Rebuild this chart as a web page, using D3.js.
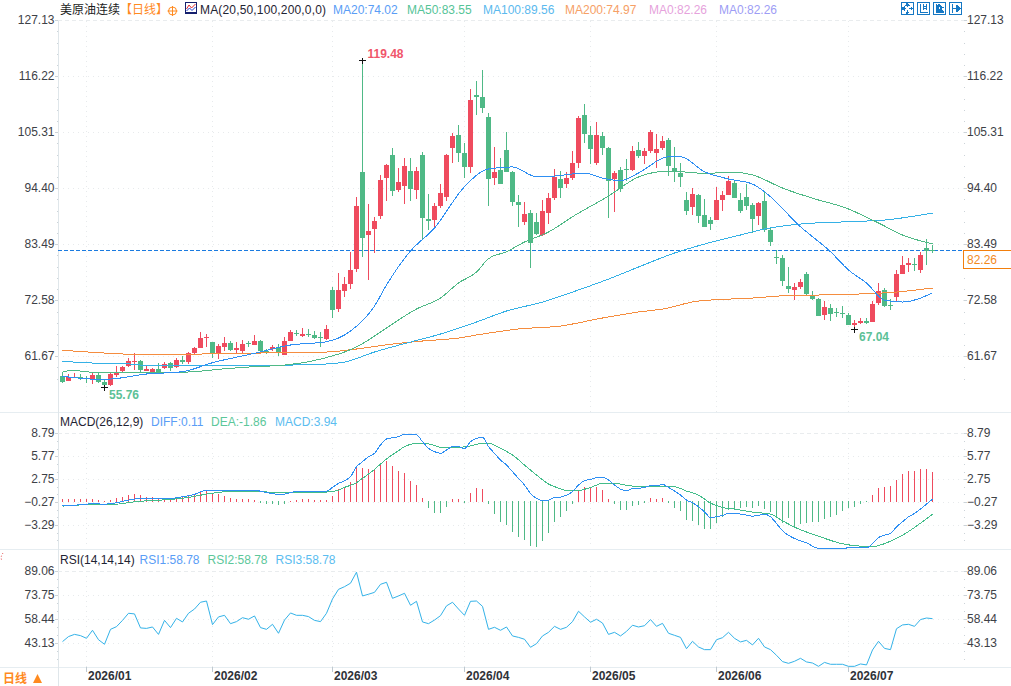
<!DOCTYPE html>
<html>
<head>
<meta charset="utf-8">
<title>美原油连续</title>
<script src="https://cdn.jsdelivr.net/npm/d3@7/dist/d3.min.js"></script>
<style>
html,body{margin:0;padding:0;background:#fff;overflow:hidden}
svg{display:block}
text{font-family:"Liberation Sans","Noto Sans CJK SC",sans-serif;font-size:12px}
</style>
</head>
<body>
<svg id="chart" width="1011" height="686"></svg>
<script>
// Daily candles
const opens = [
57.89,56.85,57.50,57.63,57.37,57.31,58.02,56.66,56.07,58.02,
58.74,59.78,60.49,60.75,58.87,58.61,59.19,59.39,60.30,59.52,
60.88,60.49,62.31,63.28,65.36,64.45,62.05,63.48,64.26,62.96,
62.70,64.26,63.87,64.65,62.70,63.15,63.48,61.98,64.65,66.21,
65.69,65.94,65.82,65.43,64.97,74.58,70.88,74.39,75.75,78.67,
97.57,85.30,86.47,89.00,96.47,100.89,94.07,94.85,97.77,94.07,
100.89,88.42,88.22,90.95,92.70,102.25,104.78,101.28,98.55,112.57,
112.18,108.29,96.41,97.96,101.86,97.57,91.73,87.83,89.59,87.83,
85.30,89.59,92.51,96.21,95.24,96.41,99.33,108.68,104.78,99.33,
104.59,102.25,96.21,97.96,98.16,97.96,101.86,100.69,101.67,101.28,
102.25,103.81,98.35,97.38,92.12,90.76,93.09,89.20,88.22,88.22,
92.12,93.09,95.43,92.12,92.70,91.15,89.00,91.92,86.27,81.08,
80.82,75.36,74.58,75.17,77.70,73.61,72.83,69.71,71.07,70.30,
70.10,69.71,67.76,68.15,68.54,68.35,72.05,74.58,71.66,73.22,
77.70,79.45,79.65,78.48,82.77,82.30];
const highs = [
58.67,58.22,58.35,58.22,57.83,58.35,58.67,57.18,58.48,59.78,
59.84,61.27,62.24,60.94,59.91,59.39,60.30,60.62,60.62,61.33,
61.72,62.44,63.48,66.40,66.01,64.52,63.98,65.36,64.58,64.45,
64.84,64.71,65.82,64.78,63.02,63.80,63.98,65.36,66.79,66.86,
67.18,66.98,66.60,66.46,67.76,75.17,77.89,77.11,81.99,92.70,
119.48,91.34,88.87,96.99,99.13,102.31,98.35,100.30,100.30,98.55,
101.47,93.29,91.53,95.24,101.08,105.17,106.73,103.22,113.74,115.30,
117.45,109.07,102.44,100.30,105.37,97.77,93.09,91.73,90.17,89.59,
92.12,93.48,98.16,97.77,97.57,101.67,108.48,110.82,106.54,107.32,
105.37,102.45,97.77,98.55,100.11,102.64,103.42,102.25,105.76,104.98,
104.59,104.20,102.45,99.33,93.68,94.46,93.29,92.31,88.81,94.65,
93.87,96.80,95.82,93.48,95.24,91.54,91.73,93.67,86.92,82.37,
81.40,79.06,75.95,76.72,78.09,74.39,73.02,72.44,71.86,71.07,
71.46,70.10,68.74,69.13,69.13,72.44,75.95,74.97,72.83,78.48,
81.21,80.82,80.82,81.99,84.52,83.35];
const lows = [
56.53,56.85,57.37,57.05,56.46,56.33,56.53,55.76,55.94,57.70,
58.61,59.52,59.00,58.61,58.80,58.48,58.28,59.19,58.87,59.39,
60.17,60.17,62.18,63.22,63.41,61.33,61.21,62.76,62.63,62.31,
62.37,63.54,63.80,62.24,62.11,62.63,61.72,61.92,64.58,65.62,
65.36,65.43,64.97,63.48,64.84,69.13,70.30,73.22,74.78,78.09,
81.01,76.53,81.73,88.42,91.92,92.90,93.68,91.34,91.92,92.31,
84.33,86.27,86.47,90.50,91.92,99.33,99.52,96.41,97.38,108.68,
109.07,90.95,95.04,95.24,97.57,90.95,86.86,87.25,78.87,85.30,
85.11,87.44,92.12,92.51,94.46,96.02,98.35,103.22,99.13,98.94,
100.89,88.61,89.78,93.68,95.82,97.77,100.30,99.13,101.28,98.35,
101.86,96.80,95.63,94.65,89.20,89.20,87.64,86.86,86.28,88.22,
89.98,93.09,92.51,89.59,90.17,85.69,87.25,85.88,83.15,79.65,
75.36,73.99,72.63,74.78,73.41,72.63,69.52,68.74,68.54,69.32,
69.13,67.76,67.04,68.02,67.96,68.35,71.66,71.27,70.69,72.44,
77.70,78.09,78.28,77.90,79.45,81.73];
const closes = [
56.72,57.70,57.70,57.31,57.24,57.96,56.72,56.07,58.22,58.41,
59.58,60.75,60.69,59.00,59.13,59.19,58.35,60.23,59.45,60.94,
60.56,62.24,63.28,65.17,65.49,62.05,63.61,64.26,62.89,63.28,
64.06,63.98,64.65,62.63,62.57,63.48,62.31,64.65,66.40,66.01,
66.01,65.82,65.23,65.30,66.98,70.69,74.58,75.75,78.48,90.95,
84.71,86.08,88.03,96.02,98.94,93.87,95.63,98.74,94.26,97.77,
88.61,88.03,90.95,93.48,100.89,104.59,101.28,98.55,111.60,112.18,
110.04,96.21,97.57,95.24,97.57,91.73,91.14,89.39,83.81,85.49,
89.98,92.51,96.60,94.46,96.41,99.33,108.10,104.98,102.06,104.78,
102.25,95.82,97.38,94.26,97.96,101.67,100.69,101.67,105.37,102.06,
103.61,98.74,97.57,96.60,89.98,93.29,89.00,86.86,87.44,92.12,
93.09,95.82,92.51,89.98,90.95,88.42,91.54,86.27,83.93,80.88,
76.34,74.78,75.17,76.14,73.80,72.83,69.52,71.27,69.91,70.10,
69.84,67.76,68.15,68.54,68.22,71.86,74.39,71.46,71.46,77.70,
79.45,79.84,79.39,81.40,82.18,82.26];

// Moving averages: bar number and value at each reading along the curve
const ma20Bars = [0,6,8,14,20,25,32,38,44,48,52,54,58,62,67,71,75,79,82,87,90,93,96,101,103,107,111,115,117,123,128,131,134,137,140,145];
const ma20Vals = [57.77,57.19,57.24,58.22,58.67,60.42,62.25,63.87,64.51,66.59,71.46,75.56,82.18,86.66,94.71,98.16,98.55,96.66,96.79,97.38,96.40,95.88,97.38,100.55,100.55,97.63,96.21,95.23,93.73,86.91,82.04,78.48,75.95,72.63,72.24,74.02];
const ma50Bars = [0,2,6,11,17,22,26,31,37,41,46,47,51,53,59,63,66,69,71,74,77,81,85,91,96,101,107,112,115,120,126,130,136,140,145];
const ma50Vals = [58.74,58.86,58.47,58.47,58.47,58.67,59.13,59.58,59.97,60.61,62.11,62.50,64.84,66.40,70.88,73.02,75.95,78.09,80.68,82.04,83.93,85.88,88.86,92.90,96.60,97.77,97.32,97.51,97.00,94.45,92.12,90.81,87.64,85.30,83.55];
const ma100Bars = [0,5,10,15,23,33,40,44,47,52,58,63,69,74,80,85,91,96,102,107,113,117,123,131,137,145];
const ma100Vals = [60.69,60.36,60.26,59.83,59.83,59.83,60.03,60.17,60.55,62.50,64.45,66.01,68.35,70.49,72.24,74.19,76.72,79.06,81.79,83.54,85.30,86.47,87.44,87.89,88.22,89.56];
const ma200Bars = [0,5,12,23,33,44,49,55,60,66,69,76,83,90,96,100,106,115,121,129,139,145];
const ma200Vals = [62.84,62.45,62.06,62.11,62.31,62.50,63.09,64.06,64.65,65.23,65.82,66.99,67.57,69.13,70.30,70.88,72.44,73.02,73.51,73.67,74.19,74.97];

// MACD panel
const macdHist = [
.35,.40,.40,.40,.40,.35,.22,.18,.26,.48,
.62,.88,1.01,.92,.62,.62,.57,.53,.44,.62,
.62,.79,.97,1.36,1.45,1.14,1.01,.79,.57,.44,
.40,.35,.26,-.22,-.40,-.44,-.48,-.40,.18,.26,
.40,.35,.31,.22,.26,.79,1.67,2.02,2.60,4.53,
4.49,4.36,4.31,5.06,5.41,4.75,4.09,3.83,2.82,2.24,
.53,-.92,-1.58,-1.58,-.79,.44,.44,-.26,1.19,1.85,
1.72,-.40,-1.72,-2.77,-3.17,-4.09,-4.75,-5.15,-5.94,-6.07,
-5.28,-4.22,-2.77,-2.11,-1.32,-.40,1.45,1.98,1.85,1.98,
1.58,.40,-.40,-1.19,-1.19,-.66,-.53,-.26,.53,.40,
.53,-.26,-.92,-1.32,-2.51,-2.64,-3.17,-3.70,-3.70,-2.90,
-2.11,-1.19,-1.19,-.92,-.79,-.92,-.66,-1.06,-1.45,-2.11,
-2.90,-2.24,-3.43,-3.04,-2.90,-2.77,-2.77,-2.38,-2.11,-1.85,
-1.32,-.92,-.79,-.40,-.05,.92,1.85,1.98,2.11,2.90,
3.70,4.09,4.09,4.36,4.36,3.94];
const diffBars = [0,3,5,7,9,11,13,16,18,20,22,24,26,28,32,34,36,37,39,44,45,46,47,48,49,50,51,52,53,54,56,57,59,60,61,62,63,64,65,66,67,68,69,70,71,72,73,74,75,76,77,78,79,80,81,82,83,84,85,86,87,88,89,90,91,92,93,94,95,96,97,98,99,100,101,102,103,104,105,106,107,108,109,110,111,112,113,114,115,116,117,118,119,120,122,124,126,134,135,136,137,138,139,140,141,142,143,144,145];
const diffVals = [-.71,-.63,-.49,-.54,-.36,-.01,.21,.21,.21,.43,.74,1.31,1.27,1.27,1.27,1.00,.74,.78,1.13,1.18,1.66,2.19,2.54,3.07,4.39,5.05,5.71,6.15,7.25,8.04,8.35,8.66,8.57,7.69,6.81,6.37,6.15,6.59,7.03,7.03,6.77,7.69,8.13,8.26,7.03,6.15,5.27,4.61,3.73,2.85,1.97,.87,.21,-.05,-.01,.34,.39,.65,1.09,1.97,2.54,2.72,2.94,2.98,2.63,1.97,1.44,1.22,1.49,1.53,1.66,1.88,1.88,2.06,1.66,1.18,.65,-.01,-.36,-.89,-1.55,-2.30,-2.21,-2.03,-1.77,-1.77,-1.86,-1.99,-2.12,-2.03,-1.86,-2.21,-3.09,-4.06,-5.07,-5.64,-6.35,-6.30,-5.73,-4.94,-4.63,-4.41,-3.53,-2.87,-2.21,-1.77,-1.20,-.54,.11];
const deaBars = [0,5,9,12,18,21,24,28,33,36,39,44,46,47,49,50,52,53,54,56,57,59,60,62,63,66,68,70,71,73,75,77,79,81,83,84,86,88,90,92,95,100,102,104,106,108,110,112,115,118,120,122,126,130,133,135,138,140,145];
const deaVals = [-.80,-.58,-.54,-.23,.08,.34,.78,1.13,1.09,1.00,1.05,1.05,1.31,1.66,2.28,2.85,4.04,4.74,5.40,6.50,7.03,7.47,7.47,7.21,6.94,6.94,7.12,7.47,7.47,6.81,5.93,4.61,3.29,2.10,1.49,1.27,1.27,1.66,2.19,2.19,1.84,1.79,1.75,1.18,.65,-.41,-.98,-1.20,-1.59,-1.86,-2.74,-3.57,-4.76,-5.77,-6.08,-6.13,-5.42,-4.63,-1.86];

// RSI panel
const rsiVals = [
44.2,47.4,48.8,48.0,46.3,51.4,45.4,42.5,52.0,53.7,
57.7,62.2,61.8,52.9,52.6,53.5,48.8,57.7,53.1,59.0,
56.7,62.2,64.9,69.2,70.0,55.0,59.9,60.9,55.6,56.9,
59.4,58.4,60.5,53.1,52.0,55.2,49.5,57.9,62.4,60.9,
60.9,60.1,57.7,56.9,62.2,71.3,77.4,79.1,81.3,88.3,
73.2,74.3,75.5,80.6,81.9,71.7,73.2,74.9,67.3,69.8,
56.7,55.6,57.9,60.7,66.9,69.2,64.9,60.9,69.8,70.0,
66.6,52.0,53.3,51.4,53.5,47.8,46.9,45.7,40.6,42.9,
47.8,50.1,53.9,52.0,53.3,56.9,63.5,59.9,56.5,58.4,
56.0,48.8,50.1,47.8,50.7,54.6,53.5,54.3,58.2,53.9,
55.8,49.5,48.2,46.9,39.7,44.4,40.8,39.1,39.1,45.4,
46.7,50.1,46.3,44.0,45.0,42.1,46.3,40.8,39.1,35.5,
31.5,30.4,31.7,33.6,31.3,30.6,28.5,31.0,29.8,29.8,
29.8,28.5,28.5,30.0,29.4,38.9,44.4,39.9,39.1,52.4,
54.8,55.2,53.9,58.2,59.2,58.78];

// Axes and captions
const priceTicks = [127.13,116.22,105.31,94.40,83.49,72.58,61.67];
const macdTicks = [8.79,5.77,2.75,-0.27,-3.29];
const rsiTicks = [89.06,73.75,58.44,43.13];
const monthBars = [4,25,45,67,88,109,131];
const monthNames = ["2026/01","2026/02","2026/03","2026/04","2026/05","2026/06","2026/07"];
const instrumentName = "美原油连续";
const periodName = "【日线】";
const maTitle = "MA(20,50,100,200,0,0)";
const maLegend = ["MA20:74.02","MA50:83.55","MA100:89.56","MA200:74.97","MA0:82.26","MA0:82.26"];
const macdLegend = ["DIFF:0.11","DEA:-1.86","MACD:3.94"];
const rsiLegend = ["RSI1:58.78","RSI2:58.78","RSI3:58.78"];
const lastClose = 82.26;
const highMark = {bar:50, value:119.48};
const lowMarks = [{bar:7, value:55.76},{bar:132, value:67.04}];

const RED = "#ef4b5e", GREEN = "#4fb986", BLUE = "#2e8ff3", TEAL = "#35b1e6", ORANGE = "#f58d3f";
const GRID = "#e7eaec", FRAME = "#e6edf1", AXIS_TEXT = "#3d4147";
const LEFT = 58, RIGHT = 964;

const svg = d3.select("#chart");
const x = d3.scaleLinear().domain([0, 145]).range([62.5, 932.5]);
const yPrice = d3.scaleLinear().domain([61.67, 116.22]).range([356.3, 76.3]);
const yMacd = d3.scaleLinear().domain([-3.29, 8.79]).range([525, 433.3]);
const yRsi = d3.scaleLinear().domain([43.13, 89.06]).range([643.3, 571]);

const px = v => Math.round(v) + 0.5;

// Panel frame
const frame = svg.append("g").attr("stroke", FRAME).attr("fill", "none").attr("shape-rendering", "crispEdges");
[412, 549, 667].forEach(y => frame.append("line").attr("x1", 0).attr("x2", 1011).attr("y1", y + .5).attr("y2", y + .5));
frame.append("line").attr("x1", LEFT + .5).attr("x2", LEFT + .5).attr("y1", 20).attr("y2", 686).attr("stroke", "#dfe6ea");

// Grid and tick labels for one panel
function panelAxis(scale, ticks, top, bottom, minorDiv) {
  const g = svg.append("g");
  const lines = g.append("g").attr("shape-rendering", "crispEdges").attr("fill", "none");
  ticks.forEach((t, i) => {
    lines.append("line").attr("x1", LEFT).attr("x2", RIGHT)
      .attr("y1", px(scale(t))).attr("y2", px(scale(t)))
      .attr("stroke", i === 0 ? "#e9ecee" : GRID)
      .attr("stroke-dasharray", i === 0 ? "4 3" : "1 4");
  });
  monthBars.forEach(b => {
    lines.append("line").attr("x1", Math.floor(x(b)) + .5).attr("x2", Math.floor(x(b)) + .5)
      .attr("y1", top).attr("y2", bottom)
      .attr("stroke", GRID).attr("stroke-dasharray", "1 4");
  });
  const step = Math.abs(ticks[1] - ticks[0]) / minorDiv;
  const lo = d3.min(ticks), hi = d3.max(ticks);
  const ticksMarks = g.append("g").attr("shape-rendering", "crispEdges").attr("stroke", "#ccd3d8");
  for (let v = lo - 2 * step; v <= hi + step / 2; v += step) {
    const yy = px(scale(v));
    if (yy < top || yy > bottom) continue;
    ticksMarks.append("line").attr("x1", LEFT - 1).attr("x2", LEFT).attr("y1", yy).attr("y2", yy);
    ticksMarks.append("line").attr("x1", RIGHT).attr("x2", RIGHT + 1).attr("y1", yy).attr("y2", yy);
  }
  ticks.forEach(t => {
    const yy = px(scale(t));
    ticksMarks.append("line").attr("x1", LEFT - 3).attr("x2", LEFT).attr("y1", yy).attr("y2", yy);
    ticksMarks.append("line").attr("x1", RIGHT).attr("x2", RIGHT + 3).attr("y1", yy).attr("y2", yy);
    const label = d3.format(".2f")(t);
    g.append("text").attr("x", 54.5).attr("y", scale(t) - 0.5).attr("text-anchor", "end")
      .attr("dominant-baseline", "central").attr("fill", AXIS_TEXT).text(label);
    g.append("text").attr("x", 967).attr("y", scale(t) - 0.5)
      .attr("dominant-baseline", "central").attr("fill", AXIS_TEXT).text(label);
  });
}
panelAxis(yPrice, priceTicks, 21, 412, 5);
panelAxis(yMacd, macdTicks, 433, 545, 3);
panelAxis(yRsi, rsiTicks, 571, 667, 3);

// Last price guide and tag
svg.append("line").attr("x1", LEFT).attr("x2", 1011)
  .attr("y1", px(yPrice(lastClose)) - 1).attr("y2", px(yPrice(lastClose)) - 1)
  .attr("stroke", "#1b7be0").attr("stroke-dasharray", "4 2").attr("shape-rendering", "crispEdges");
svg.append("rect").attr("x", 963.5).attr("y", 250.5).attr("width", 48).attr("height", 18)
  .attr("fill", "#fff").attr("stroke", "#f27f0c").attr("shape-rendering", "crispEdges");
svg.append("text").attr("x", 967).attr("y", 259.5).attr("dominant-baseline", "central")
  .attr("fill", "#f28a1e").text(d3.format(".2f")(lastClose));

// Moving average curves
const curve = (bars, vals, scale) => d3.line()
  .x((d, i) => x(bars[i])).y(d => scale(d)).curve(d3.curveMonotoneX)(vals);
const maSeries = [
  [ma200Bars, ma200Vals, ORANGE],
  [ma100Bars, ma100Vals, TEAL],
  [ma50Bars, ma50Vals, GREEN],
  [ma20Bars, ma20Vals, BLUE]
];

// Candles
const idx = d3.range(closes.length);
const up = i => closes[i] >= opens[i];
const colorOf = i => up(i) ? RED : GREEN;
const candles = svg.append("g").attr("shape-rendering", "crispEdges");
candles.selectAll("rect.wick").data(idx).join("rect").attr("class", "wick")
  .attr("x", i => Math.floor(x(i))).attr("width", 1)
  .attr("y", i => yPrice(highs[i]))
  .attr("height", i => yPrice(lows[i]) - yPrice(highs[i]))
  .attr("fill", colorOf);
candles.selectAll("rect.body").data(idx).join("rect").attr("class", "body")
  .attr("x", i => Math.floor(x(i)) - 2).attr("width", 5)
  .attr("y", i => yPrice(Math.max(opens[i], closes[i])))
  .attr("height", i => Math.max(1, Math.abs(yPrice(opens[i]) - yPrice(closes[i]))))
  .attr("fill", colorOf);

maSeries.forEach(([b, v, c]) => {
  svg.append("path").attr("d", curve(b, v, yPrice)).attr("fill", "none")
    .attr("stroke", c).attr("stroke-width", 1).attr("shape-rendering", "crispEdges");
});

// Extreme price markers
function crossAt(bar, value) {
  const cx = Math.floor(x(bar)) + .5, cy = px(yPrice(value));
  const g = svg.append("g").attr("stroke", "#111").attr("shape-rendering", "crispEdges");
  g.append("line").attr("x1", cx - 3.5).attr("x2", cx + 3.5).attr("y1", cy).attr("y2", cy);
  g.append("line").attr("x1", cx).attr("x2", cx).attr("y1", cy - 3).attr("y2", cy + 3);
}
crossAt(highMark.bar, highMark.value);
lowMarks.forEach(m => crossAt(m.bar, m.value));
svg.append("text").attr("x", x(highMark.bar) + 5).attr("y", yPrice(highMark.value) - 6)
  .attr("dominant-baseline", "central").attr("font-weight", "bold").attr("fill", "#f0566b")
  .text(highMark.value.toFixed(2));
lowMarks.forEach(m => {
  svg.append("text").attr("x", x(m.bar) + 4.5).attr("y", yPrice(m.value) + 8)
    .attr("dominant-baseline", "central").attr("font-weight", "bold").attr("fill", "#5cc197")
    .text(m.value.toFixed(2));
});

// MACD histogram and lines, the bars stand on the -0.27 level
const macdBase = macdTicks[3];
const hist = svg.append("g").attr("shape-rendering", "crispEdges");
hist.selectAll("rect").data(macdHist).join("rect")
  .attr("x", (d, i) => Math.floor(x(i))).attr("width", 1)
  .attr("y", d => d >= 0 ? yMacd(macdBase + d) : yMacd(macdBase) - 1)
  .attr("height", d => Math.max(1, Math.abs(yMacd(macdBase + d) - yMacd(macdBase))))
  .attr("fill", d => d >= 0 ? RED : GREEN);
svg.append("path").attr("d", curve(deaBars, deaVals, yMacd)).attr("fill", "none")
  .attr("stroke", "#43bd8a").attr("stroke-width", 1).attr("shape-rendering", "crispEdges");
svg.append("path").attr("d", curve(diffBars, diffVals, yMacd)).attr("fill", "none")
  .attr("stroke", BLUE).attr("stroke-width", 1).attr("shape-rendering", "crispEdges");

// RSI line
svg.append("path")
  .attr("d", d3.line().x((d, i) => x(i)).y(d => yRsi(d))(rsiVals))
  .attr("fill", "none").attr("stroke", "#33b2e8").attr("stroke-width", 1);

// Time axis
const timeAxis = svg.append("g");
monthBars.forEach((b, i) => {
  const tx = Math.floor(x(b)) + .5;
  timeAxis.append("line").attr("x1", tx).attr("x2", tx).attr("y1", 667).attr("y2", 672)
    .attr("stroke", "#bfc9d0").attr("shape-rendering", "crispEdges");
  timeAxis.append("text").attr("x", tx + 1.5).attr("y", 676).attr("dominant-baseline", "central")
    .attr("font-weight", "bold").attr("fill", "#2f3238").text(monthNames[i]);
});

// Legends
const put = (tx, ty, s, fill) => svg.append("text").attr("x", tx).attr("y", ty)
  .attr("dominant-baseline", "central").attr("fill", fill).text(s);
put(60, 9.5, instrumentName, "#1c1c1c");
put(120, 9.5, periodName, "#ff8a1f");
put(200, 9.5, maTitle, "#1f2433").attr("textLength", 126);
const maXs = [333, 407, 483, 565, 649, 719];
const maColors = ["#5a9df6", "#55c497", "#5bb9ee", "#f6a066", "#e6a2dc", "#9d9df5"];
maLegend.forEach((s, i) => put(maXs[i], 9.5, s, maColors[i]));
put(60, 421.5, "MACD(26,12,9)", "#1f2433");
const macdXs = [151, 211, 275], rsiXs = [139.5, 207.5, 275.5];
const trioColors = ["#5a9df6", "#5cc79a", "#5bbdf0"];
macdLegend.forEach((s, i) => put(macdXs[i], 421.5, s, trioColors[i]));
put(60, 559.5, "RSI(14,14,14)", "#1f2433");
rsiLegend.forEach((s, i) => put(rsiXs[i], 559.5, s, trioColors[i]));

// Period switch in the corner
svg.append("text").attr("x", 3).attr("y", 678.5).attr("dominant-baseline", "central")
  .attr("fill", "#ff8a1f").attr("font-weight", "bold").text("日线");
svg.append("path").attr("d", "M33 683 L37.5 674 L42 683 Z").attr("fill", "#ff8a1f");

// Small crosshair icon beside the period
const ci = svg.append("g").attr("stroke", "#ff8a1f").attr("fill", "none");
ci.append("circle").attr("cx", 172.5).attr("cy", 11).attr("r", 4);
ci.append("path").attr("d", "M167.5 11H177.5M172.5 6V16");

// Indicator icon before the MA title
const mi = svg.append("g").attr("fill", "none");
mi.append("rect").attr("x", 185.5).attr("y", 2.5).attr("width", 11).attr("height", 10)
  .attr("fill", "#fff").attr("stroke", "#15206e").attr("shape-rendering", "crispEdges");
mi.append("rect").attr("x", 185).attr("y", 12).attr("width", 12).attr("height", 2).attr("fill", "#15206e");
mi.append("path").attr("d", "M186.5 9L189 5L191.5 8L195.5 4").attr("stroke", "#e0262e");
mi.append("path").attr("d", "M186.5 11L189.5 8L192 10.5L195.5 7").attr("stroke", "#1f3fd0");

// Zoom and pan toolbar
const BTN = "#1678c4";
const btnXs = [901, 917, 933, 949];
const btnGlyphs = [
  "M6.5 2V5M6.5 8V11M2 6.5H5M8 6.5H11M6.5 1L5 3H8ZM6.5 12L5 10H8ZM1 6.5L3 5V8ZM12 6.5L10 5V8Z",
  "M3 2V10H11M6 2V8M9 2V8M6 4H9M6 6H9",
  "M3 2V10H11M5 2V8M5 2L10 5.5L5 8Z",
  "M3 2V11M3 6.5H7M7 3L12 6.5L7 10Z"
];
btnXs.forEach((bx, i) => {
  const g = svg.append("g").attr("transform", `translate(${bx},2)`);
  g.append("rect").attr("x", .5).attr("y", .5).attr("width", 12).attr("height", 12)
    .attr("fill", "#fff").attr("stroke", BTN).attr("shape-rendering", "crispEdges");
  g.append("path").attr("d", btnGlyphs[i]).attr("fill", i > 1 ? BTN : "none")
    .attr("stroke", BTN).attr("stroke-width", 1).attr("shape-rendering", "crispEdges");
});

// Resize handle specks at the left margin
svg.append("path").attr("d", "M3 553Q0 557 2 561").attr("fill", "none")
  .attr("stroke", "#e23b3b").attr("stroke-dasharray", "1 2");
</script>
</body>
</html>
